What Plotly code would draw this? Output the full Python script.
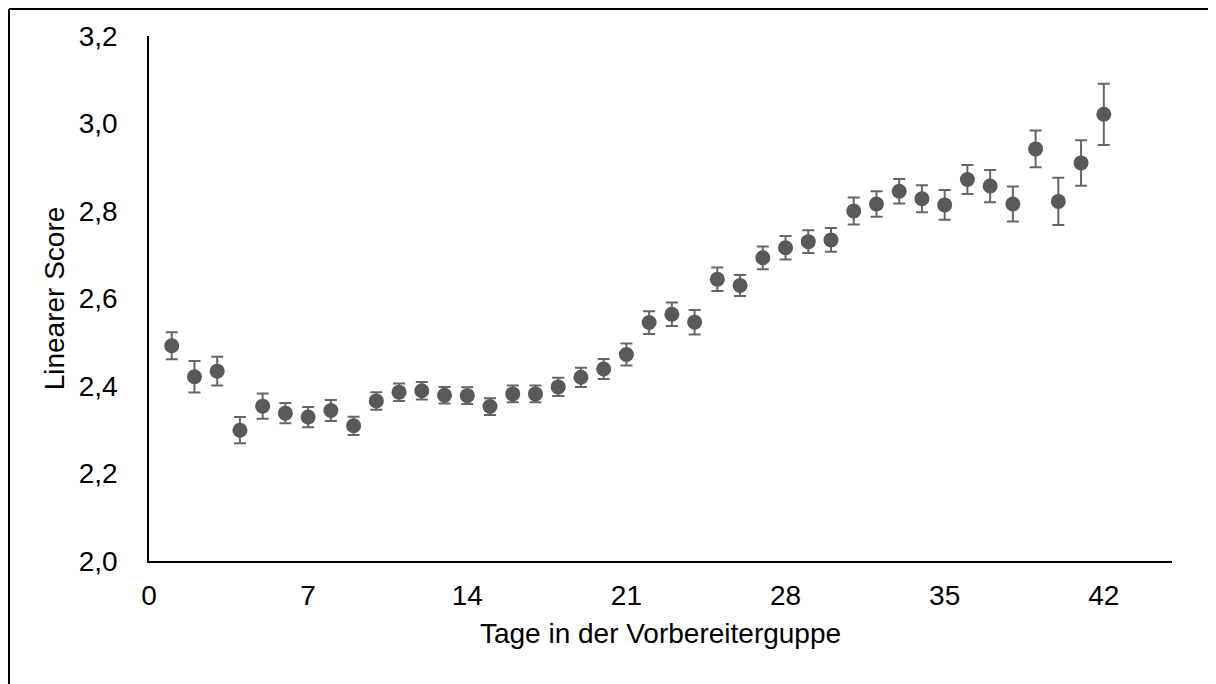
import plotly.graph_objects as go

days = list(range(1, 43))
scores = [2.492, 2.421, 2.434, 2.299, 2.354, 2.338, 2.329, 2.344, 2.309, 2.366,
          2.386, 2.389, 2.379, 2.378, 2.353, 2.382, 2.382, 2.398, 2.420, 2.439,
          2.472, 2.545, 2.564, 2.546, 2.644, 2.630, 2.693, 2.716, 2.730, 2.734,
          2.800, 2.816, 2.845, 2.828, 2.814, 2.872, 2.857, 2.816, 2.942, 2.822,
          2.910, 3.021]
errors = [0.031, 0.036, 0.033, 0.030, 0.029, 0.023, 0.023, 0.024, 0.021, 0.020,
          0.020, 0.020, 0.019, 0.019, 0.019, 0.019, 0.019, 0.021, 0.022, 0.023,
          0.025, 0.026, 0.027, 0.028, 0.027, 0.024, 0.026, 0.027, 0.026, 0.027,
          0.031, 0.029, 0.028, 0.031, 0.034, 0.033, 0.037, 0.040, 0.042, 0.054,
          0.052, 0.070]
x_ticks = [0, 7, 14, 21, 28, 35, 42]
y_ticks = [2.0, 2.2, 2.4, 2.6, 2.8, 3.0, 3.2]

FONT = "Liberation Sans, Arial, sans-serif"
W, H = 1208, 676
ML, MR, MT, MB = 141, 44, 28, 123
PW, PH = W - ML - MR, H - MT - MB

fig = go.Figure()
fig.add_trace(go.Scatter(
    x=days, y=scores, mode="markers",
    marker=dict(size=15, color="#595959"),
    error_y=dict(type="data", array=errors, visible=True,
                 color="#666666", thickness=2, width=6),
    showlegend=False,
))

bx = (1 - ML) / PW
by = 1 + (MT - 1) / PH

fig.update_layout(
    width=W, height=H,
    margin=dict(l=ML, r=MR, t=MT, b=MB, autoexpand=False),
    paper_bgcolor="white", plot_bgcolor="white",
    separators=",.",
    font=dict(family=FONT, size=28, color="black"),
    xaxis=dict(range=[0, 45], tickvals=x_ticks, ticks="", showgrid=False,
               zeroline=False, showline=True, linecolor="black", linewidth=2,
               ticklabelstandoff=8,
               title=dict(text="Tage in der Vorbereiterguppe", standoff=14,
                          font=dict(size=28))),
    yaxis=dict(range=[2.0, 3.2], tickvals=y_ticks, tickformat=".1f", ticks="",
               showgrid=False, zeroline=False, showline=True, linecolor="black",
               linewidth=1.5, ticklabelstandoff=24,
               title=dict(text="Linearer Score", standoff=6,
                          font=dict(size=28))),
    shapes=[
        dict(type="line", xref="paper", yref="paper",
             x0=bx, x1=1.2, y0=by, y1=by,
             line=dict(color="black", width=2)),
        dict(type="line", xref="paper", yref="paper",
             x0=bx, x1=bx, y0=by, y1=-0.4,
             line=dict(color="black", width=2)),
    ],
)

fig.write_html("out.html")
